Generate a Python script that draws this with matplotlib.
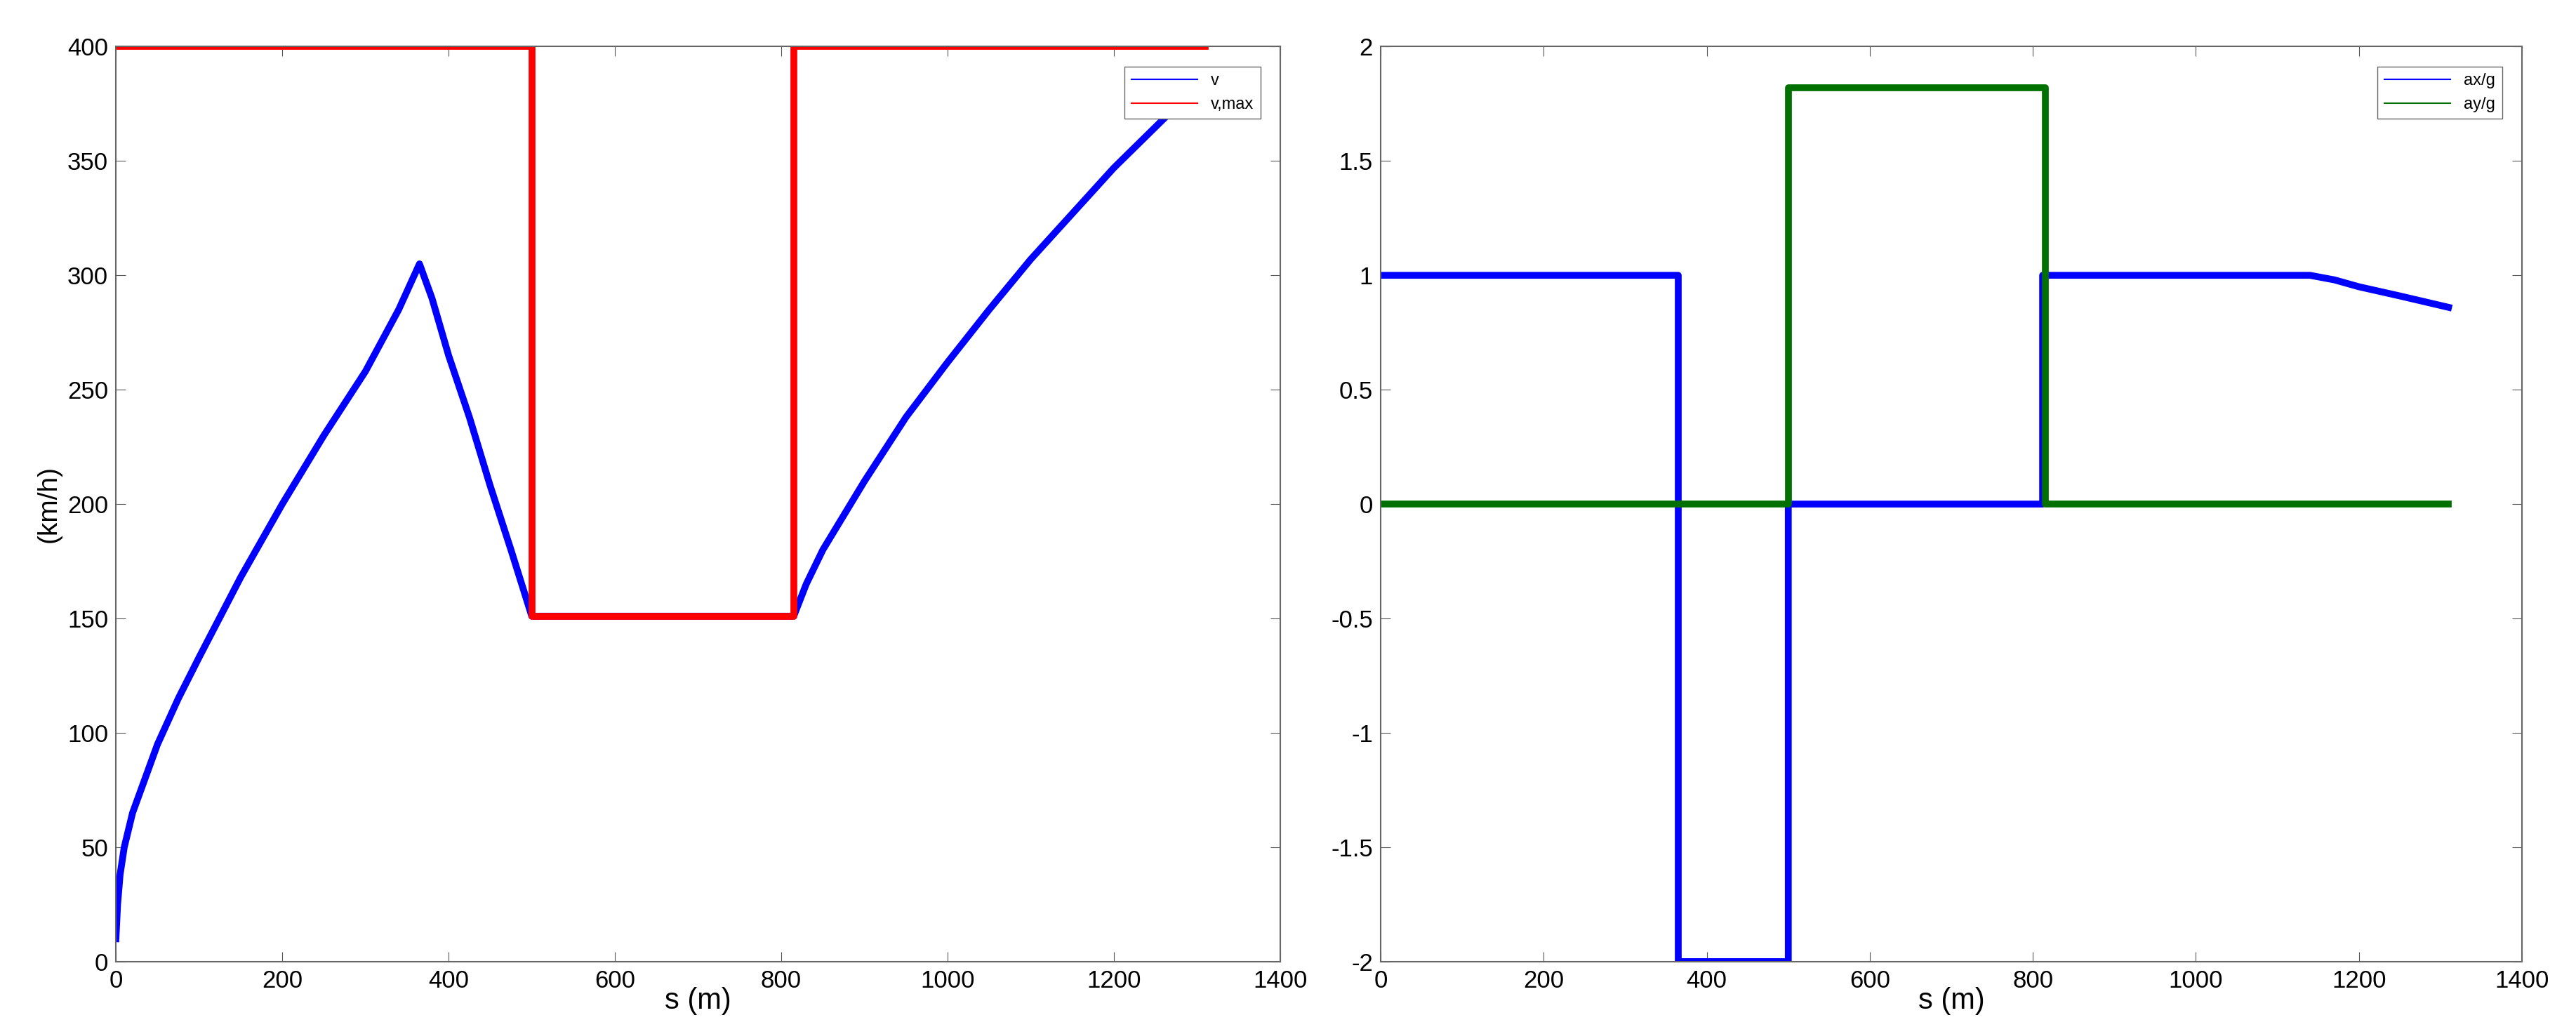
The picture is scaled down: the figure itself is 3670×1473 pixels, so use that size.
import matplotlib
matplotlib.use("Agg")
import matplotlib.pyplot as plt
from matplotlib.ticker import FuncFormatter

plt.rcParams['font.family'] = ['Liberation Sans', 'DejaVu Sans']
plt.rcParams['axes.unicode_minus'] = False

# --- DATA ---
v_s = [0, 2, 5, 10, 20, 35, 50, 75, 100, 150, 200, 250, 300, 340, 365,
       380, 400, 425, 450, 475, 500, 815, 830, 850, 875, 900, 950, 1000,
       1050, 1100, 1150, 1200, 1270]
v_kmh = [10, 25, 38, 50, 65, 80, 95, 115, 133, 168, 200, 230, 258, 285, 305,
         290, 265, 238, 208, 180, 151, 151, 165, 180, 195, 210, 238, 262,
         285, 307, 327, 347, 372]
vmax_s = [0, 500, 500, 815, 815, 1310]
vmax_kmh = [400, 400, 151, 151, 400, 400]

ax_s = [0, 365, 365, 500, 500, 812, 812, 1140, 1170, 1200, 1250, 1310]
ax_g = [1, 1, -2, -2, 0, 0, 1, 1, 0.98, 0.95, 0.91, 0.86]
ay_s = [0, 500, 500, 815, 815, 1310]
ay_g = [0, 0, 1.82, 1.82, 0, 0]

fig = plt.figure(figsize=(36.7, 14.73), dpi=100)
a1 = fig.add_axes([0.045, 0.07, 0.452, 0.885])
a2 = fig.add_axes([0.536, 0.07, 0.443, 0.885])

a1.plot(v_s, v_kmh, color='#0000ff', lw=7, label='v')
a1.plot(vmax_s, vmax_kmh, color='#ff0000', lw=7, label='v,max')
a1.set_xlim(0, 1400)
a1.set_ylim(0, 400)
a1.set_ylabel('(km/h)', fontsize=28, labelpad=6)

a2.plot(ax_s, ax_g, color='#0000ff', lw=7, label='ax/g')
a2.plot(ay_s, ay_g, color='#007000', lw=7, label='ay/g')
a2.set_xlim(0, 1400)
a2.set_ylim(-2, 2)
a2.yaxis.set_major_formatter(FuncFormatter(lambda y, p: '%g' % y))

for a in (a1, a2):
    a.set_xlabel('s (m)', fontsize=30, labelpad=-6)
    a.tick_params(labelsize=25, direction='in', length=10, top=True, right=True,
                  color='#555555', pad=8)
    for sp in a.spines.values():
        sp.set_color('#666666')
        sp.set_linewidth(1.5)
    leg = a.legend(loc='upper right', fontsize=17, fancybox=False, framealpha=1,
                   handlelength=4, borderaxespad=1.2)
    leg.get_frame().set_edgecolor('#666666')
    for ln in leg.get_lines():
        ln.set_linewidth(1.5)

fig.savefig('out.png', dpi=100)
